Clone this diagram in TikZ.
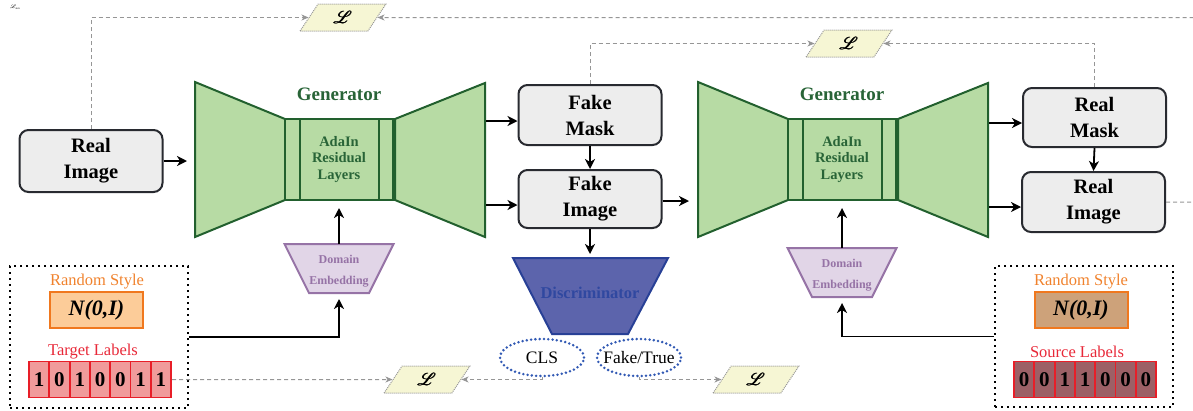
\documentclass[tikz,border=0pt]{standalone}
\usepackage{fontspec}
\setmainfont{Liberation Serif}
\usepackage{amsmath}
\usepackage{mathrsfs}
\usetikzlibrary{shapes.geometric,arrows.meta,calc}
\definecolor{boxfill}{RGB}{237,237,237}
\definecolor{boxdraw}{RGB}{40,42,48}
\definecolor{gfill}{RGB}{183,219,164}
\definecolor{gdraw}{RGB}{34,96,46}
\definecolor{gtext}{RGB}{40,100,55}
\definecolor{pfill}{RGB}{225,213,231}
\definecolor{pdraw}{RGB}{150,115,166}
\definecolor{dfill}{RGB}{92,100,172}
\definecolor{ddraw}{RGB}{40,64,150}
\definecolor{dtext}{RGB}{48,72,160}
\definecolor{edraw}{RGB}{50,90,180}
\definecolor{lfill}{RGB}{246,246,212}
\definecolor{dgray}{RGB}{150,150,150}
\definecolor{otext}{RGB}{240,130,45}
\definecolor{ofill}{RGB}{252,204,153}
\definecolor{odraw}{RGB}{240,120,30}
\definecolor{ofilltwo}{RGB}{205,162,122}
\definecolor{rtext}{RGB}{232,40,56}
\definecolor{rdraw}{RGB}{232,30,40}
\definecolor{cfill}{RGB}{240,155,155}
\definecolor{cfilltwo}{RGB}{156,96,102}
\tikzset{
  box/.style={draw=boxdraw, fill=boxfill, line width=2pt, rounded corners=9pt,
    minimum width=143pt, minimum height=60pt, align=center, inner sep=0pt,
    font=\fontsize{20.5}{26}\selectfont\bfseries},
  arr/.style={line width=1.8pt, -{Stealth[length=10pt,width=10pt,inset=3pt]}},
  dl/.style={dgray, line width=1pt, dash pattern=on 4pt off 3pt,
    -{Stealth[length=7pt,width=6pt,inset=2pt]}},
  lossbox/.style={trapezium, trapezium left angle=62, trapezium right angle=118,
    trapezium stretches=true, minimum width=86pt, minimum height=27pt,
    fill=lfill, draw=dgray, line width=1pt, dash pattern=on 1pt off 1pt,
    inner sep=0pt, font=\fontsize{19}{19}\selectfont},
  gen/.style={fill=gfill, draw=gdraw, line width=2pt, line join=miter},
  emb/.style={fill=pfill, draw=pdraw, line width=2pt, line join=miter},
  ell/.style={ellipse, draw=edraw, line width=2.8pt, dash pattern=on 0pt off 4.3pt,
    line cap=round, minimum width=84pt, minimum height=37pt, inner sep=0pt,
    font=\fontsize{17.5}{17.5}\selectfont},
  dotbox/.style={draw=black, line width=2.2pt, dash pattern=on 2.2pt off 3.8pt,
    minimum width=178pt, minimum height=142pt, inner sep=0pt},
  otxt/.style={text=otext, font=\fontsize{16.5}{16.5}\selectfont, inner sep=0pt},
  rtxt/.style={text=rtext, font=\fontsize{16.5}{16.5}\selectfont, inner sep=0pt},
  nbox/.style={draw=odraw, line width=2pt, minimum width=93pt, minimum height=36pt,
    inner sep=0pt, font=\fontsize{22}{22}\selectfont\bfseries\itshape},
  cell/.style={draw=rdraw, line width=1.8pt, minimum width=20.3pt, minimum height=36pt,
    inner sep=0pt, font=\fontsize{21}{21}\selectfont\bfseries}
}
\newcommand{\lossL}{$\pmb{\mathscr{L}}$}
\begin{document}
\begin{tikzpicture}[x=1pt,y=-1pt]
\path[use as bounding box] (0,0) rectangle (1193,410);
\clip (0,0) rectangle (1193,410);
\node[font=\fontsize{4}{4}\selectfont, inner sep=0pt] (tiny) at (15,7) {$\mathscr{L}_{\mathrm{sim}}$};

% generators
\foreach \cx/\n in {339/1, 842/2}{
  \draw[gen] (\cx-144,82) -- (\cx-54,119) -- (\cx-54,200) -- (\cx-144,237) -- cycle;
  \draw[gen] (\cx+56,119) -- (\cx+146,83) -- (\cx+146,237) -- (\cx+56,200) -- cycle;
  \node[gen, minimum width=108pt, minimum height=81pt, inner sep=0pt, align=center,
    text=gtext, font=\fontsize{14.5}{16.5}\selectfont\bfseries] (res\n) at (\cx,159.5)
    {AdaIn\\Residual\\Layers};
  \draw[gdraw, line width=2pt] (\cx-39,119) -- (\cx-39,200);
  \draw[gdraw, line width=2pt] (\cx+40,119) -- (\cx+40,200);
  \node[text=gtext, font=\fontsize{19}{19}\selectfont\bfseries] (glab\n) at (\cx,94) {Generator};
}
% domain embeddings
\foreach \cx/\ty/\n in {339/244/1, 842/248/2}{
  \draw[emb] (\cx-54.5,\ty) -- (\cx+54.5,\ty) -- (\cx+30,\ty+49) -- (\cx-30,\ty+49) -- cycle;
  \node[text=pdraw, align=center, font=\fontsize{12}{21}\selectfont\bfseries] (de\n) at (\cx,\ty+27) {Domain\\Embedding};
  \coordinate (detop\n) at (\cx,\ty);
  \coordinate (debot\n) at (\cx,\ty+49);
  \draw[arr, shorten >=7pt] (detop\n) -- (res\n.south);
}

% boxes
\node[box, minimum height=62pt] (ri) at (91,161) {Real\\Image};
\node[box] (fm) at (590,115) {Fake\\Mask};
\node[box, minimum height=58pt] (fi) at (590,199) {Fake\\Image};
\node[box, minimum height=59pt] (rm) at (1094.5,117.5) {Real\\Mask};
\node[box] (rim) at (1093.5,202) {Real\\Image};

\coordinate (g1in) at (187,161);
\draw[arr] (ri.east) -- (g1in);
\coordinate (g1o1) at (486,121);
\coordinate (g1o2) at (486,205);
\draw[arr] (g1o1) -- (fm.west |- g1o1);
\draw[arr] (g1o2) -- (fi.west |- g1o2);
\draw[arr] (fm.south) -- (fi.north);
\coordinate (g2in) at (689,201);
\draw[arr] (fi.east |- g2in) -- (g2in);
\coordinate (g2o1) at (989,123);
\coordinate (g2o2) at (989,207);
\draw[arr] (g2o1) -- (rm.west |- g2o1);
\draw[arr] (g2o2) -- (rim.west |- g2o2);
\draw[arr] (rm.south) -- (rim.north);

% discriminator
\draw[fill=dfill, draw=ddraw, line width=2pt, line join=miter]
  (513,258) -- (668,258) -- (628,334) -- (552,334) -- cycle;
\node[text=dtext, font=\fontsize{16.5}{16.5}\selectfont\bfseries] (disc) at (590,293) {Discriminator};
\coordinate (disctop) at (590,258);
\draw[arr, shorten >=4pt] (fi.south) -- (disctop);
\node[ell] (cls) at (542,357.5) {\makebox[30pt]{CLS}};
\node[ell] (ft) at (639,357.5) {\makebox[30pt]{Fake/True}};

% losses
\node[lossbox] (L1) at (343,17.5) {\lossL};
\node[lossbox] (L2) at (849,43.5) {\lossL};
\node[lossbox] (L3) at (427,379.5) {\lossL};
\node[lossbox] (L4) at (756,379.5) {\lossL};

% left input box
\node[dotbox] (lbox) at (99,337) {};
\node[otxt] (rs1) at (97,282) {Random Style};
\node[nbox, fill=ofill] (n1) at (96.5,310) {N(0,I)};
\node[rtxt] (tl) at (93,352) {Target Labels};
\foreach \d [count=\i] in {1,0,1,0,0,1,1}
  \node[cell, fill=cfill] (t\i) at ({29+20.3*(\i-0.5)},379.5) {\d};

% right input box
\node[dotbox, minimum height=141pt] (rbox) at (1084,336.5) {};
\node[otxt] (rs2) at (1081,282) {Random Style};
\node[nbox, fill=ofilltwo] (n2) at (1081,310) {N(0,I)};
\node[rtxt] (sl) at (1077,352) {Source Labels};
\foreach \d [count=\i] in {0,0,1,1,0,0,0}
  \node[cell, fill=cfilltwo] (s\i) at ({1014+20.3*(\i-0.5)},379.5) {\d};

\draw[arr, shorten >=6pt] (lbox.east) -| (debot1);
\draw[arr, shorten >=6pt] (rbox.west) -| (debot2);

% dashed loss connectors
\coordinate (farR) at (1203,17.5);
\draw[dl] (ri.north) |- (L1.west);
\draw[dl] (rim.east) -| (farR) -- (L1.east);
\draw[dl] (fm.north) |- (L2.west);
\draw[dl] (rm.north) |- (L2.east);
\draw[dl] (t7.east) -- (L3.west);
\draw[dl] (cls.south) |- (L3.east);
\draw[dl] (ft.south) |- (L4.west);
\end{tikzpicture}
\end{document}
